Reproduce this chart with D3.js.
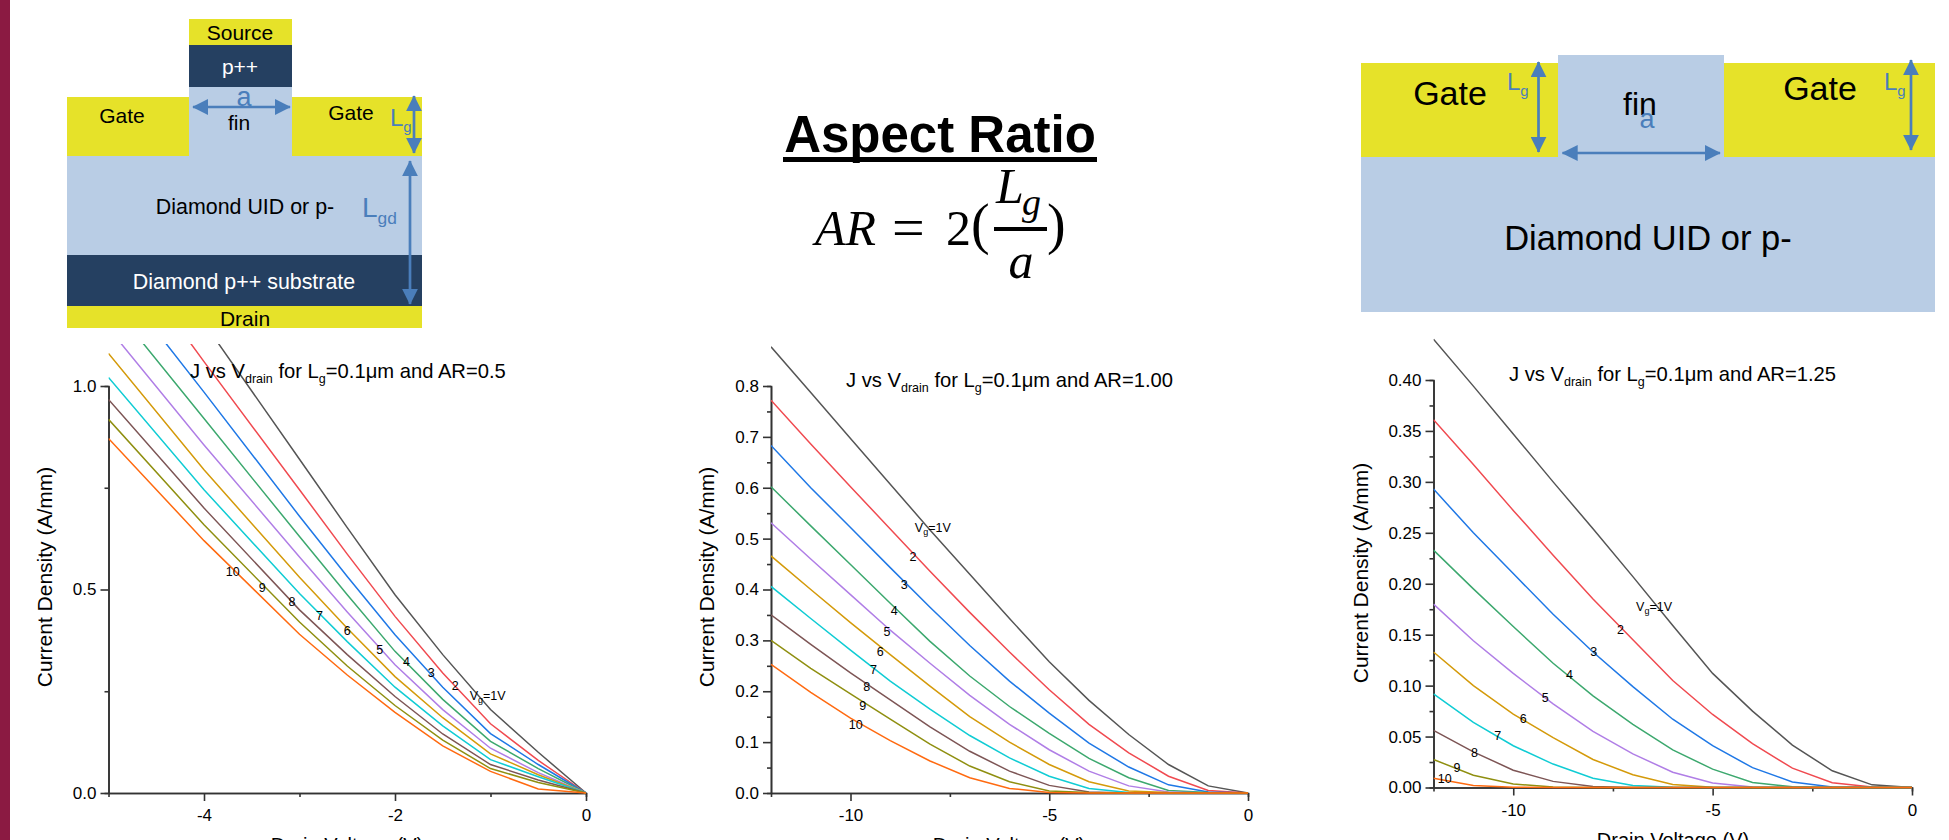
<!DOCTYPE html>
<html>
<head>
<meta charset="utf-8">
<script src="https://cdn.jsdelivr.net/npm/d3@7"></script>
<style>
  html, body { margin: 0; padding: 0; background: #fff; overflow: hidden; }
  svg { display: block; }
  text { font-family: "Liberation Sans", Arial, sans-serif; fill: #000; }
  .domain, .tick line { stroke: #333; stroke-width: 1.6; }
</style>
</head>
<body>
<script>
// gate voltage labels, shared by all three charts
const gateLabels = ["Vg=1V", "2", "3", "4", "5", "6", "7", "8", "9", "10"]

// AR=0.5
const voltsA = [-5, -4, -3, -2.5, -2, -1.5, -1, -0.5, 0]
const curvesA = [
  [1.49, 1.155, 0.82, 0.652, 0.487, 0.34, 0.205, 0.1, 0],
  [1.38, 1.06, 0.745, 0.587, 0.434, 0.295, 0.17, 0.08, 0],
  [1.285, 0.985, 0.68, 0.532, 0.389, 0.26, 0.146, 0.07, 0],
  [1.21, 0.92, 0.63, 0.487, 0.348, 0.23, 0.127, 0.06, 0],
  [1.142, 0.855, 0.58, 0.445, 0.315, 0.205, 0.11, 0.05, 0],
  [1.08, 0.794, 0.53, 0.405, 0.286, 0.185, 0.096, 0.045, 0],
  [1.021, 0.745, 0.49, 0.372, 0.26, 0.165, 0.082, 0.04, 0],
  [0.967, 0.7, 0.45, 0.34, 0.237, 0.145, 0.07, 0.032, 0],
  [0.918, 0.659, 0.42, 0.312, 0.215, 0.13, 0.06, 0.026, 0],
  [0.871, 0.62, 0.39, 0.29, 0.198, 0.116, 0.053, 0.01, 0]
]
const labelXA = [-1.03, -1.37, -1.62, -1.88, -2.16, -2.5, -2.79, -3.08, -3.39, -3.7]
const labelYA = [0.24, 0.264, 0.295, 0.323, 0.353, 0.4, 0.436, 0.47, 0.505, 0.544]

// AR=1.00
const voltsB = [-12, -11, -10, -9, -8, -7, -6, -5, -4, -3, -2, -1, 0]
const curvesB = [
  [0.877, 0.787, 0.697, 0.607, 0.517, 0.43, 0.343, 0.258, 0.182, 0.115, 0.056, 0.014, 0],
  [0.772, 0.686, 0.602, 0.519, 0.436, 0.355, 0.277, 0.203, 0.135, 0.079, 0.033, 0.005, 0],
  [0.683, 0.6, 0.522, 0.443, 0.365, 0.29, 0.22, 0.157, 0.098, 0.051, 0.016, 0.002, 0],
  [0.602, 0.525, 0.449, 0.373, 0.298, 0.23, 0.17, 0.117, 0.068, 0.03, 0.005, 0.001, 0],
  [0.531, 0.46, 0.39, 0.32, 0.255, 0.192, 0.135, 0.085, 0.043, 0.014, 0.002, 0, 0],
  [0.466, 0.4, 0.335, 0.272, 0.21, 0.15, 0.1, 0.056, 0.022, 0.004, 0.001, 0, 0],
  [0.406, 0.343, 0.281, 0.22, 0.165, 0.113, 0.069, 0.033, 0.009, 0.001, 0, 0, 0],
  [0.35, 0.292, 0.236, 0.183, 0.13, 0.082, 0.043, 0.015, 0.002, 0, 0, 0, 0],
  [0.3, 0.245, 0.195, 0.145, 0.096, 0.053, 0.022, 0.004, 0.001, 0, 0, 0, 0],
  [0.253, 0.198, 0.147, 0.103, 0.063, 0.03, 0.009, 0.001, 0, 0, 0, 0, 0]
]
const labelXB = [-7.93, -8.43, -8.65, -8.9, -9.08, -9.25, -9.42, -9.59, -9.69, -9.87]
const labelYB = [0.522, 0.464, 0.41, 0.358, 0.317, 0.277, 0.243, 0.209, 0.171, 0.135]

// AR=1.25
const voltsC = [-12, -11, -10, -9, -8, -7, -6, -5, -4, -3, -2, -1, 0]
const curvesC = [
  [0.44, 0.394, 0.347, 0.3, 0.254, 0.207, 0.159, 0.112, 0.075, 0.0416, 0.0164, 0.0026, 0],
  [0.361, 0.317, 0.272, 0.228, 0.185, 0.145, 0.105, 0.0717, 0.043, 0.019, 0.0046, 0.0005, 0],
  [0.293, 0.25, 0.21, 0.17, 0.133, 0.099, 0.067, 0.041, 0.0195, 0.0055, 0.0006, 0, 0],
  [0.233, 0.195, 0.158, 0.122, 0.09, 0.062, 0.037, 0.018, 0.005, 0.0007, 0, 0, 0],
  [0.18, 0.144, 0.112, 0.082, 0.055, 0.033, 0.015, 0.0045, 0.0005, 0, 0, 0, 0],
  [0.133, 0.1, 0.072, 0.049, 0.0275, 0.0125, 0.003, 0.0003, 0, 0, 0, 0, 0],
  [0.092, 0.064, 0.041, 0.023, 0.009, 0.002, 0.0002, 0, 0, 0, 0, 0, 0],
  [0.056, 0.035, 0.017, 0.006, 0.001, 0.0001, 0, 0, 0, 0, 0, 0, 0],
  [0.0275, 0.012, 0.0035, 0.0005, 0, 0, 0, 0, 0, 0, 0, 0, 0],
  [0.009, 0.002, 0.0003, 0, 0, 0, 0, 0, 0, 0, 0, 0, 0]
]
const labelXC = [-6.47, -7.31, -7.98, -8.59, -9.2, -9.75, -10.39, -10.97, -11.41, -11.72]
const labelYC = [0.178, 0.155, 0.133, 0.111, 0.088, 0.068, 0.051, 0.034, 0.02, 0.0085]

const lineColors = ["#555555", "#f04a50", "#1f78e6", "#3ca86e", "#b07ee6", "#d49a0a", "#10ccd4", "#7d5555", "#8f8f10", "#ff6a10"]

const yellow = "#e6e229", lightBlue = "#b9cde5", navy = "#254061", arrowBlue = "#4a7ebb"

const svg = d3.select("body").append("svg").attr("width", 1949).attr("height", 840)

svg.append("defs").append("marker")
  .attr("id", "head")
  .attr("viewBox", "0 0 10 10").attr("refX", 9.5).attr("refY", 5)
  .attr("markerWidth", 16).attr("markerHeight", 16)
  .attr("markerUnits", "userSpaceOnUse")
  .attr("orient", "auto-start-reverse")
  .append("path").attr("d", "M0,0L10,5L0,10Z").attr("fill", arrowBlue)

svg.append("rect").attr("width", 10).attr("height", 840).attr("fill", "#8b1a42")

function box(x0, y0, x1, y1, fill) {
  svg.append("rect").attr("x", x0).attr("y", y0).attr("width", x1 - x0).attr("height", y1 - y0).attr("fill", fill)
}

function label(x, y, str, size, fill = "#000", anchor = "middle") {
  return svg.append("text").attr("x", x).attr("y", y).attr("font-size", size)
    .attr("text-anchor", anchor).style("fill", fill).text(str)
}

function arrow(x0, y0, x1, y1) {
  svg.append("line").attr("x1", x0).attr("y1", y0).attr("x2", x1).attr("y2", y1)
    .attr("stroke", arrowBlue).attr("stroke-width", 2.7)
    .attr("marker-start", "url(#head)").attr("marker-end", "url(#head)")
}

// text with subscript pieces: [["L"], ["g", true], ...]
function richText(g, x, y, parts, size, anchor = "start") {
  const t = g.append("text").attr("x", x).attr("y", y).attr("font-size", size).attr("text-anchor", anchor)
  let down = false
  parts.forEach(([s, sub]) => {
    const ts = t.append("tspan").text(s)
    if (sub) { ts.attr("dy", size * 0.25).attr("font-size", size * 0.62); down = true }
    else if (down) { ts.attr("dy", -size * 0.25); down = false }
  })
  return t
}

function drawDeviceLeft() {
  box(189, 19, 292, 45, yellow)
  box(189, 45, 292, 87, navy)
  box(189, 87, 292, 156, lightBlue)
  box(67, 97, 189, 156, yellow)
  box(292, 97, 422, 156, yellow)
  box(67, 156, 422, 255, lightBlue)
  box(67, 255, 422, 306, navy)
  box(67, 306, 422, 328, yellow)

  label(240, 40, "Source", 21)
  label(240, 74, "p++", 21, "#fff")
  label(244, 106, "a", 27, arrowBlue)
  label(239, 130, "fin", 21)
  label(122, 123, "Gate", 21)
  label(351, 120, "Gate", 21)
  label(245, 214, "Diamond UID or p-", 21.4)
  label(244, 289, "Diamond p++ substrate", 21.4, "#fff")
  label(245, 326, "Drain", 21)
  richText(svg, 390, 126, [["L"], ["g", true]], 24).selectAll("tspan").style("fill", arrowBlue)
  richText(svg, 362, 217, [["L"], ["gd", true]], 28).selectAll("tspan").style("fill", arrowBlue)

  arrow(193, 107, 290, 107)
  arrow(414, 96, 414, 153)
  arrow(410, 161, 410, 304)
}

function drawDeviceRight() {
  box(1361, 63, 1558, 157, yellow)
  box(1724, 63, 1935, 157, yellow)
  box(1558, 55, 1724, 157, lightBlue)
  box(1361, 157, 1935, 312, lightBlue)

  label(1450, 105, "Gate", 34)
  label(1820, 100, "Gate", 34)
  label(1640, 115, "fin", 32)
  label(1647, 128, "a", 27, arrowBlue)
  label(1648, 250, "Diamond UID or p-", 34.5)
  richText(svg, 1507, 90, [["L"], ["g", true]], 24).selectAll("tspan").style("fill", arrowBlue)
  richText(svg, 1884, 90, [["L"], ["g", true]], 24).selectAll("tspan").style("fill", arrowBlue)

  arrow(1538.5, 62, 1538.5, 152)
  arrow(1911, 60, 1911, 150)
  arrow(1562.5, 153, 1720, 153)
}

function drawFormula() {
  label(940, 152, "Aspect Ratio", 51).style("font-weight", "bold")
  box(783, 157, 1097, 162, "#000")

  const serif = '"Liberation Serif", serif'
  const math = (x, y, s, size, italic = true, anchor = "start") =>
    label(x, y, s, size, "#000", anchor).style("font-family", serif).style("font-style", italic ? "italic" : "normal")
  math(815, 245, "AR", 50)
  math(892, 247, "=", 58, false)
  math(946, 245, "2", 50, false)
  math(971, 243, "(", 56, false)
  math(996, 203, "L", 50)
  math(1022, 215, "g", 38)
  box(994, 227, 1047, 231, "#000")
  math(1021, 278, "a", 50, true, "middle")
  math(1047, 243, ")", 56, false)
}

function drawChart(o) {
  const g = svg.append("g")
  const x = d3.scaleLinear().domain(o.xDomain).range(o.xRange)
  const y = d3.scaleLinear().domain(o.yDomain).range(o.yRange)

  // minor ticks first, then the labelled ones
  g.append("g").attr("transform", `translate(0,${o.yRange[0]})`)
    .call(d3.axisBottom(x).tickValues(o.xMinor).tickSize(4).tickFormat(""))
  const xAxis = g.append("g").attr("transform", `translate(0,${o.yRange[0]})`)
    .call(d3.axisBottom(x).tickValues(o.xMajor).tickSize(8).tickSizeOuter(0).tickPadding(8).tickFormat(d => String(d)))
  xAxis.selectAll("text").attr("font-size", 17)

  g.append("g").attr("transform", `translate(${o.xRange[0]},0)`)
    .call(d3.axisLeft(y).tickValues(o.yMinor).tickSize(4).tickFormat(""))
  const yAxis = g.append("g").attr("transform", `translate(${o.xRange[0]},0)`)
    .call(d3.axisLeft(y).tickValues(o.yMajor).tickSize(8).tickSizeOuter(0).tickPadding(4).tickFormat(d3.format(o.yFormat)))
  yAxis.selectAll("text").attr("font-size", 17)
  g.selectAll(".domain").attr("fill", "none")
  g.selectAll("text").style("fill", "#000").style("font-family", '"Liberation Sans", sans-serif')

  const clipId = "clip" + o.key
  g.append("clipPath").attr("id", clipId).append("rect")
    .attr("x", o.xRange[0]).attr("y", o.clipTop)
    .attr("width", o.xRange[1] - o.xRange[0] + 1).attr("height", o.yRange[0] - o.clipTop + 2)

  const line = d3.line().x((d, i) => x(o.volts[i])).y(d => y(d))
  g.append("g").attr("clip-path", `url(#${clipId})`)
    .selectAll("path").data(o.curves).join("path")
    .attr("d", line)
    .attr("fill", "none")
    .attr("stroke", (d, i) => lineColors[i])
    .attr("stroke-width", 1.5)

  g.selectAll(".curve-label").data(gateLabels).join("text")
    .attr("class", "curve-label")
    .attr("x", (d, i) => x(o.labelX[i]))
    .attr("y", (d, i) => y(o.labelY[i]))
    .attr("dy", "0.35em")
    .attr("text-anchor", "middle")
    .attr("font-size", 12.5)
    .each(function (d, i) {
      const t = d3.select(this)
      if (i === 0) {
        t.append("tspan").text("V")
        t.append("tspan").text("g").attr("dy", 3).attr("font-size", 9)
        t.append("tspan").text("=1V").attr("dy", -3)
      } else {
        t.text(d)
      }
    })

  richText(g, o.titleX, o.titleY, [["J vs V"], ["drain", true], [" for L"], ["g", true], ["=0.1μm and AR=" + o.ar]], 20.2)

  g.append("text").attr("transform", `translate(${o.yLabelX},${o.yLabelY}) rotate(-90)`)
    .attr("text-anchor", "middle").attr("font-size", 21).text("Current Density (A/mm)")
  g.append("text").attr("x", o.xLabelX).attr("y", o.xLabelY)
    .attr("text-anchor", "middle").attr("font-size", 20).text("Drain Voltage (V)")
}

drawDeviceLeft()
drawDeviceRight()
drawFormula()

drawChart({
  key: "A", ar: "0.5", volts: voltsA, curves: curvesA, labelX: labelXA, labelY: labelYA,
  xDomain: [-5, 0], xRange: [108.5, 586], yDomain: [0, 1], yRange: [793, 386], clipTop: 344,
  xMajor: [-4, -2, 0], xMinor: [-3, -1],
  yMajor: [0, 0.5, 1], yMinor: [0.25, 0.75], yFormat: ".1f",
  titleX: 190, titleY: 378, yLabelX: 52, yLabelY: 577, xLabelX: 347, xLabelY: 852
})

drawChart({
  key: "B", ar: "1.00", volts: voltsB, curves: curvesB, labelX: labelXB, labelY: labelYB,
  xDomain: [-12, 0], xRange: [771, 1248], yDomain: [0, 0.8], yRange: [793, 386], clipTop: 330,
  xMajor: [-10, -5, 0], xMinor: [-7.5, -2.5],
  yMajor: d3.range(0, 9).map(d => d / 10), yMinor: d3.range(0, 8).map(d => d / 10 + 0.05), yFormat: ".1f",
  titleX: 846, titleY: 387, yLabelX: 714, yLabelY: 577, xLabelX: 1009, xLabelY: 852
})

drawChart({
  key: "C", ar: "1.25", volts: voltsC, curves: curvesC, labelX: labelXC, labelY: labelYC,
  xDomain: [-12, 0], xRange: [1433.5, 1912], yDomain: [0, 0.4], yRange: [787.5, 380], clipTop: 330,
  xMajor: [-10, -5, 0], xMinor: [-7.5, -2.5],
  yMajor: d3.range(0, 9).map(d => d * 0.05), yMinor: d3.range(0, 8).map(d => d * 0.05 + 0.025), yFormat: ".2f",
  titleX: 1509, titleY: 381, yLabelX: 1368, yLabelY: 573, xLabelX: 1673, xLabelY: 847
})
</script>
</body>
</html>
